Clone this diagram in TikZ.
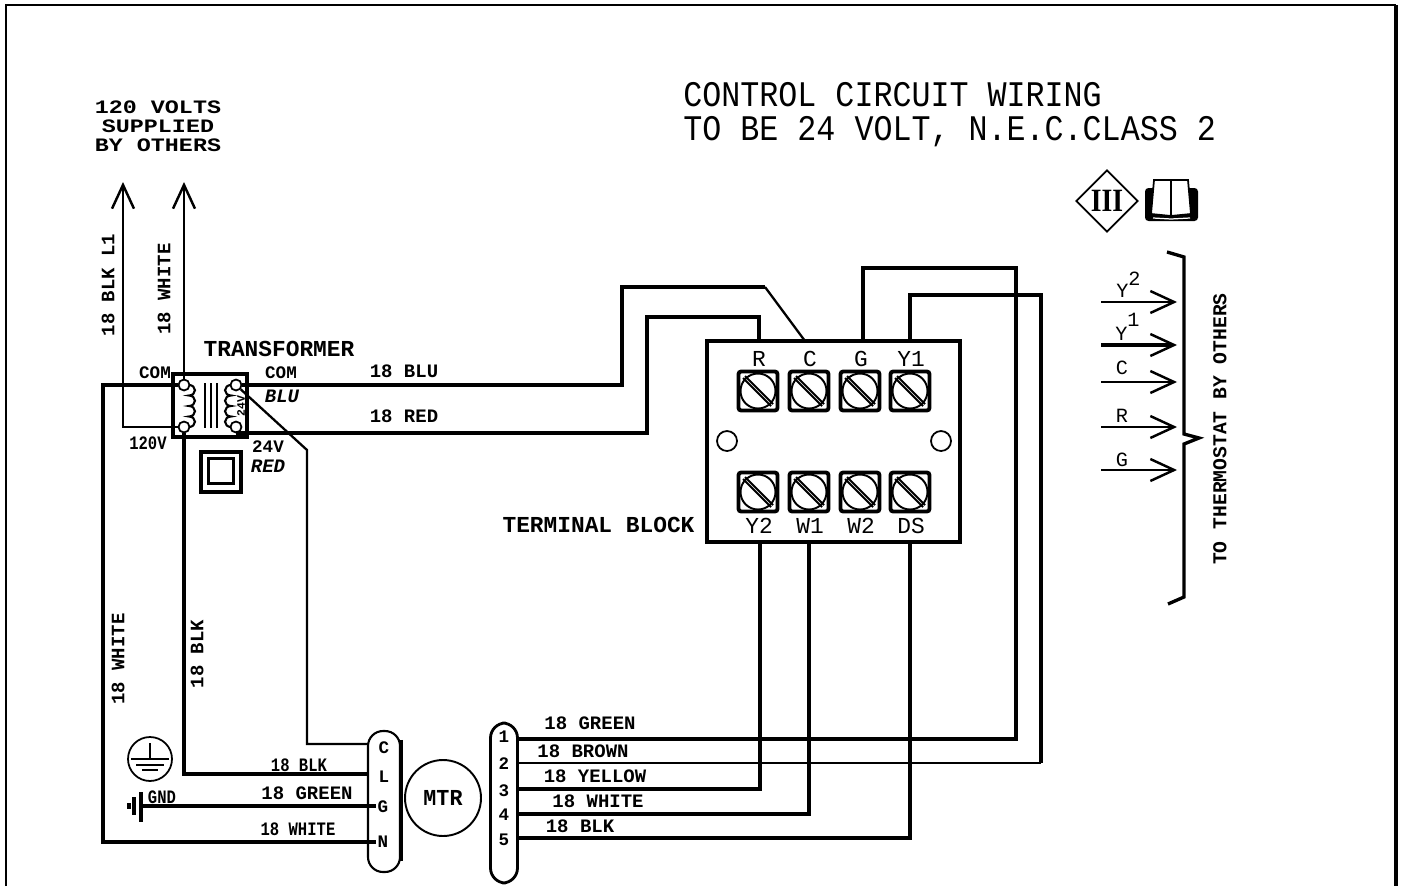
\documentclass[tikz,border=0pt]{standalone}
\usepackage{fontspec}
\usetikzlibrary{arrows.meta,shapes.geometric}
\newfontfamily\cadfont{Liberation Mono}
\newfontfamily\cadserif{Liberation Serif}
\newcommand{\widetxt}[1]{\scalebox{1.23}[1]{#1}}
\newcommand{\narrowtxt}[1]{\scalebox{.82}[1]{#1}}
\tikzset{
  wire/.style={line width=1.9pt},
  thickwire/.style={line width=2.2pt},
  thinwire/.style={line width=1.3pt},
  barb/.style={line width=1.6pt,-{Straight Barb[length=13.5pt,width=12.5pt,line width=1.4pt]}},
  lbl/.style={inner sep=0pt,font=\cadfont\bfseries\fontsize{10.8}{11}\selectfont},
  biglbl/.style={inner sep=0pt,font=\cadfont\bfseries\fontsize{13}{13}\selectfont},
  lblit/.style={inner sep=0pt,font=\cadfont\bfseries\itshape\fontsize{10.8}{11}\selectfont},
  pinlbl/.style={inner sep=0pt,font=\cadfont\bfseries\fontsize{10}{11}\selectfont},
  blocklbl/.style={inner sep=0pt,font=\cadfont\fontsize{13}{14}\selectfont},
  thermlbl/.style={inner sep=0pt,font=\cadfont\fontsize{11.5}{12}\selectfont},
  title/.style={inner sep=0pt,anchor=west,font=\cadfont\fontsize{20.5}{21}\selectfont},
  term/.style={circle,draw,line width=1pt,fill=white,inner sep=0pt,minimum size=.22cm},
  plug/.style={draw,rounded corners=.3cm,line width=1.2pt,inner sep=0pt,fill=white}
}
\begin{document}
\begin{tikzpicture}[x=0.02cm,y=-0.02cm]
  \useasboundingbox (0,0) rectangle (1403,886);
  \draw[line width=1.2pt] (6,886) -- (6,5) -- (1396,5);
  \draw[line width=1.8pt] (1396,5) -- (1396,886);

  % title
  \node[title] (title1) at (683,95) {\scalebox{.88}[1]{CONTROL CIRCUIT WIRING}};
  \node[title] (title2) at (683,132) {\scalebox{.88}[1]{TO BE 24 VOLT, N.E.C.CLASS 2}};
  \node[lbl] (supply1) at (158,107) {\widetxt{120 VOLTS}};
  \node[lbl] (supply2) at (158,126) {\widetxt{SUPPLIED}};
  \node[lbl] (supply3) at (158,145) {\widetxt{BY OTHERS}};

  % transformer
  \node[draw,line width=1.9pt,minimum width=1.48cm,minimum height=1.26cm,inner sep=0pt] (xfmr) at (210,405.5) {};
  \foreach \ax in {205,211,217}
    \draw[line width=1.4pt] (\ax,383) -- (\ax,428);
  \draw[line width=1.2pt] (189,385) arc (-90:90:6 and 5.25) arc (-90:90:6 and 5.25)
    arc (-90:90:6 and 5.25) arc (-90:90:6 and 5.25);
  \draw[line width=1.2pt] (231,385) arc (270:90:6 and 5.25) arc (270:90:6 and 5.25)
    arc (270:90:6 and 5.25) arc (270:90:6 and 5.25);
  \node[term] (pri1) at (184,385) {};
  \node[term] (pri2) at (184,427) {};
  \node[term] (sec1) at (236,385) {};
  \node[term] (sec2) at (236,427) {};
  \node[inner sep=0pt,rotate=90,font=\cadfont\bfseries\fontsize{6.5}{7}\selectfont] (sec) at (241,406) {24V};
  \node[draw,line width=1.8pt,minimum size=.8cm,inner sep=0pt] (relay) at (221,472) {};
  \node[draw,line width=1.8pt,minimum size=.5cm,inner sep=0pt] (relayin) at (221,471) {};

  \node[biglbl] (xfmrlbl) at (279,349) {TRANSFORMER};
  \node[pinlbl] (coml) at (155,373) {COM};
  \node[pinlbl] (comr) at (281,373) {COM};
  \node[lblit] (blu) at (282,396) {BLU};
  \node[lbl] (v120) at (148,443) {\narrowtxt{120V}};
  \node[pinlbl] (v24) at (268,447) {24V};
  \node[lblit] (red) at (268,466) {RED};
  \node[lbl] (blulbl) at (404,371) {18 BLU};
  \node[lbl] (redlbl) at (404,416) {18 RED};

  % supply
  \coordinate (arrL) at (123,182);
  \coordinate (arrW) at (184,182);
  \draw[barb] (pri2) -| (arrL);
  \draw[barb] (pri1) -- (arrW);
  \node[lbl,rotate=90] (blklbl) at (108,285) {18 BLK L1};
  \node[lbl,rotate=90] (whtlbl) at (164,289) {18 WHITE};
  \node[lbl,rotate=90] (whtlbl2) at (118,659) {18 WHITE};
  \node[lbl,rotate=90] (blklbl2) at (197,654) {18 BLK};

  % terminal block
  \node[draw,line width=1.8pt,minimum width=5.06cm,minimum height=4.02cm,inner sep=0pt] (block) at (833.5,441.5) {};
  \node[biglbl] (blocktxt) at (598.5,525) {TERMINAL BLOCK};
  \foreach \sx/\tlbl/\blbl in {758/R/Y2,809/C/W1,860/G/W2,910/Y1/DS}{
    \foreach \sy in {391,492}{
      \draw[line width=2.2pt,rounded corners=1.5pt] (\sx-19.5,\sy-19.5) rectangle (\sx+19.5,\sy+19.5);
      \draw[line width=1.1pt,fill=white] (\sx,\sy) circle (17.5);
      \draw[line width=1.2pt] (\sx-13,\sy-15) -- (\sx+15,\sy+13) (\sx-15,\sy-13) -- (\sx+13,\sy+15);
    }
    \node[blocklbl] (top\tlbl) at (\sx+1,359) {\tlbl};
    \node[blocklbl] (bot\blbl) at (\sx+1,526) {\blbl};
  }
  \node[circle,draw,line width=1pt,minimum size=.4cm,inner sep=0pt] (holeL) at (727,441) {};
  \node[circle,draw,line width=1pt,minimum size=.4cm,inner sep=0pt] (holeR) at (941,441) {};

  % block wires
  \coordinate (inC) at (805,341);
  \coordinate (inR) at (759,341);
  \coordinate (inG) at (863,341);
  \coordinate (inY) at (910,341);
  \coordinate (outY) at (760,542);
  \coordinate (outW) at (809,542);
  \coordinate (outD) at (910,542);
  \draw[thickwire] (sec1) -- (622,385) -- (622,287) -- (765,287);
  \draw[thinwire] (765,287) -- (inC);
  \draw[thickwire] (sec2.south) -| (647,317) -- (759,317) -- (inR);

  % motor plug
  \node[plug,minimum width=.64cm,minimum height=2.82cm] (plug) at (384,801.5) {};
  \draw[line width=2.2pt] (plug.north east) ++(0,10) -- ++(0,121);
  \node[pinlbl] (pinC) at (384,748) {C};
  \node[pinlbl] (pinL) at (384,777) {L};
  \node[pinlbl] (pinG) at (383,807) {G};
  \node[pinlbl] (pinN) at (383,842) {N};
  \node[circle,draw,line width=1.1pt,minimum size=1.52cm,inner sep=0pt,font=\cadfont\bfseries\fontsize{13}{14}\selectfont] (mtr) at (443,798) {\scalebox{.95}[1]{MTR}};
  \coordinate (plugC) at (368,744);
  \coordinate (plugL) at (368,774);
  \coordinate (plugG) at (376,806);
  \coordinate (plugN) at (376,842);
  \draw[wire] (pri1) -- (103,385) -- (103,842) -- (plugN);
  \draw[wire] (pri2) -- (184,774) -- (plugL);
  \draw[thinwire] (sec1) -- (307,450) -- (307,744) -- (plugC);

  % ground
  \coordinate (gnd) at (141,806);
  \draw[wire] (gnd) -- (plugG);
  \draw[wire] (141,792) -- (141,822);
  \draw[wire] (134,797) -- (134,815);
  \draw[wire] (129,803) -- (129,809);
  \node[lbl] (gndlbl) at (162,797) {\narrowtxt{GND}};
  \node[circle,draw,line width=1pt,minimum size=.88cm,inner sep=0pt] (earth) at (150,759) {};
  \draw[line width=1.4pt] (150,743) -- (150,759) (131,759) -- (169,759) (136,765) -- (164,765) (142,770) -- (158,770);

  \node[lbl] (lblBlk) at (299,765) {\narrowtxt{18 BLK}};
  \node[lbl] (lblGrn) at (307,793) {18 GREEN};
  \node[lbl] (lblWht) at (298,829) {\narrowtxt{18 WHITE}};

  % control plug
  \node[plug,line width=1.6pt,minimum width=.54cm,minimum height=3.2cm] (conn) at (504,803) {};
  \foreach \pn/\py in {1/737,2/764,3/791,4/815,5/840}
    \node[pinlbl] (pin\pn) at (504,\py) {\pn};
  \coordinate (conn1) at (517,739);
  \coordinate (conn2) at (517,763);
  \coordinate (conn3) at (517,789);
  \coordinate (conn4) at (517,814);
  \coordinate (conn5) at (517,838);
  \draw[wire] (inG) -- (863,268) -- (1016,268) -- (1016,739) -- (conn1);
  \draw[wire] (inY) -- (910,295) -- (1041,295) -- (1041,763);
  \draw[thinwire] (1041,763) -- (conn2);
  \draw[wire] (outY) -- (760,789) -- (conn3);
  \draw[wire] (outW) -- (809,814) -- (conn4);
  \draw[wire] (outD) -- (910,838) -- (conn5);
  \node[lbl] (lbl1) at (590,723) {18 GREEN};
  \node[lbl] (lbl2) at (583,751) {18 BROWN};
  \node[lbl] (lbl3) at (595,776) {18 YELLOW};
  \node[lbl] (lbl4) at (598,801) {18 WHITE};
  \node[lbl] (lbl5) at (580,826) {18 BLK};

  % thermostat side
  \node[draw,diamond,aspect=1,line width=1pt,inner sep=0pt,minimum size=1.24cm] (class) at (1107,201) {};
  \node[inner sep=0pt,font=\cadserif\bfseries\fontsize{18.5}{19}\selectfont] (classtxt) at (class) {\scalebox{.85}[1]{III}};
  \fill[rounded corners=2pt] (1145,188) rectangle (1198,221);
  \draw[line width=1pt,fill=white] (1154,180) -- (1151,214) -- (1171,216) -- (1191,214) -- (1188,180) -- cycle
    (1171,180) -- (1171,216);
  \draw[white,line width=.7pt] (1153,218) -- (1171,219) -- (1190,218);
  \draw[line width=1.9pt] (1167,252) -- (1184,257) -- (1184,434) -- (1199,438) -- (1184,444) -- (1184,597) -- (1168,604);
  \foreach \ay/\an in {302/a,382/c,427/d,470/e}{
    \coordinate (s\an) at (1101,\ay);
    \coordinate (e\an) at (1177,\ay);
    \draw[barb] (s\an) -- (e\an);
  }
  \coordinate (sb) at (1101,345);
  \coordinate (eb) at (1177,345);
  \draw[barb,line width=2.2pt] (sb) -- (eb);
  \node[thermlbl,anchor=west] (y2) at (1116,285) {Y\raisebox{7pt}{2}};
  \node[thermlbl,anchor=west] (y1) at (1115,327) {Y\raisebox{8pt}{1}};
  \node[thermlbl] (tc) at (1122,368) {C};
  \node[thermlbl] (tr) at (1122,416) {R};
  \node[thermlbl] (tg) at (1122,460) {G};
  \node[lbl,rotate=90,font=\cadfont\bfseries\fontsize{11.2}{12}\selectfont] (tothermo) at (1220,429) {TO THERMOSTAT BY OTHERS};
\end{tikzpicture}
\end{document}
